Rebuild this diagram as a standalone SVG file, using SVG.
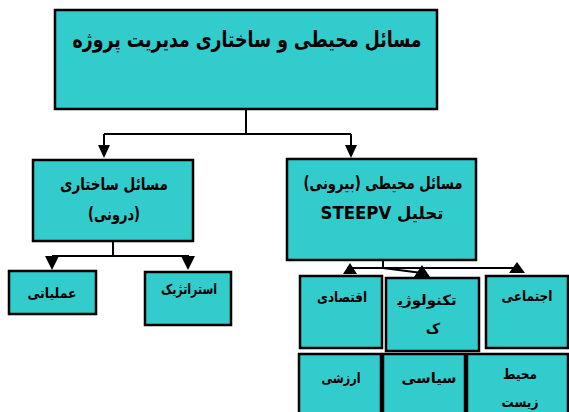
<svg xmlns="http://www.w3.org/2000/svg" width="569" height="412" viewBox="0 0 569 412">
<style>
.box{fill:#33CCCC;stroke:#000;stroke-width:2.5}
.t{font-family:"DejaVu Sans",sans-serif;font-weight:bold;fill:#000;text-anchor:middle;direction:rtl}
.ln{fill:none;stroke:#000;stroke-width:2}
.ah{fill:#000}
</style>
<rect width="569" height="412" fill="#fff"/>
<g id="connectors">
<path class="ln" d="M246,109 V134 M104,134 H351 M104,134 V147 M351,134 V147"/>
<polygon class="ah" points="98,145 110,145 104,158"/>
<polygon class="ah" points="345,145 357,145 351,158"/>
<path class="ln" d="M113,241 V256 M52,256 H189 M52,256 V260 M189,256 V260"/>
<polygon class="ah" points="45,256 59,256 52,270"/>
<polygon class="ah" points="181,256 195,256 188,270"/>
<path class="ln" d="M383,260 V268 M350,268 H517 M383,268 L422,273"/>
<polygon class="ah" points="350,263 343,274 357,274"/>
<polygon class="ah" points="422,265 414,277 430,277"/>
<polygon class="ah" points="517,262 509,273 525,273"/>
</g>
<g id="root">
<rect class="box" x="55" y="10" width="382" height="99"/>
<text class="t" x="247" y="47" font-size="22" textLength="349" lengthAdjust="spacingAndGlyphs">مسائل محیطی و ساختاری مدیریت پروژه</text>
</g>
<g id="internal">
<rect class="box" x="33" y="160" width="160" height="81"/>
<text class="t" x="114" y="190" font-size="17" textLength="108" lengthAdjust="spacingAndGlyphs">مسائل ساختاری</text>
<text class="t" x="114" y="220" font-size="17" textLength="52" lengthAdjust="spacingAndGlyphs">(درونی)</text>
</g>
<g id="external">
<rect class="box" x="287" y="159" width="189" height="101"/>
<text class="t" x="383" y="189" font-size="17" textLength="159" lengthAdjust="spacingAndGlyphs">مسائل محیطی (بیرونی)</text>
<text class="t" x="382" y="219" font-size="17" textLength="123" lengthAdjust="spacingAndGlyphs">تحلیل STEEPV</text>
</g>
<g id="operational">
<rect class="box" x="9" y="271" width="87" height="43"/>
<text class="t" x="52" y="298" font-size="14" textLength="49" lengthAdjust="spacingAndGlyphs">عملیاتی</text>
</g>
<g id="strategic">
<rect class="box" x="145" y="272" width="86" height="53"/>
<text class="t" x="189" y="294" font-size="14" textLength="56" lengthAdjust="spacingAndGlyphs">استراتژیک</text>
</g>
<g id="economic">
<rect class="box" x="300" y="276" width="82" height="72"/>
<text class="t" x="342" y="302" font-size="14" textLength="50" lengthAdjust="spacingAndGlyphs">اقتصادی</text>
</g>
<g id="technological">
<rect class="box" x="386" y="278" width="93" height="73"/>
<text class="t" x="427" y="305" font-size="14" textLength="59" lengthAdjust="spacingAndGlyphs">تکنولوژی&#x200D;</text>
<text class="t" x="433" y="333" font-size="14">ک</text>
</g>
<g id="social">
<rect class="box" x="486" y="276" width="82" height="72"/>
<text class="t" x="527" y="301" font-size="14" textLength="51" lengthAdjust="spacingAndGlyphs">اجتماعی</text>
</g>
<g id="values">
<rect class="box" x="299" y="354" width="82" height="70"/>
<text class="t" x="341" y="383" font-size="14" textLength="39" lengthAdjust="spacingAndGlyphs">ارزشی</text>
</g>
<g id="political">
<rect class="box" x="383" y="354" width="82" height="70"/>
<text class="t" x="429" y="383" font-size="14" textLength="55" lengthAdjust="spacingAndGlyphs">سیاسی</text>
</g>
<g id="environment">
<rect class="box" x="467" y="354" width="101" height="70"/>
<text class="t" x="520" y="379" font-size="14" textLength="34" lengthAdjust="spacingAndGlyphs">محیط</text>
<text class="t" x="520" y="407" font-size="14" textLength="37" lengthAdjust="spacingAndGlyphs">زیست</text>
</g>
</svg>
